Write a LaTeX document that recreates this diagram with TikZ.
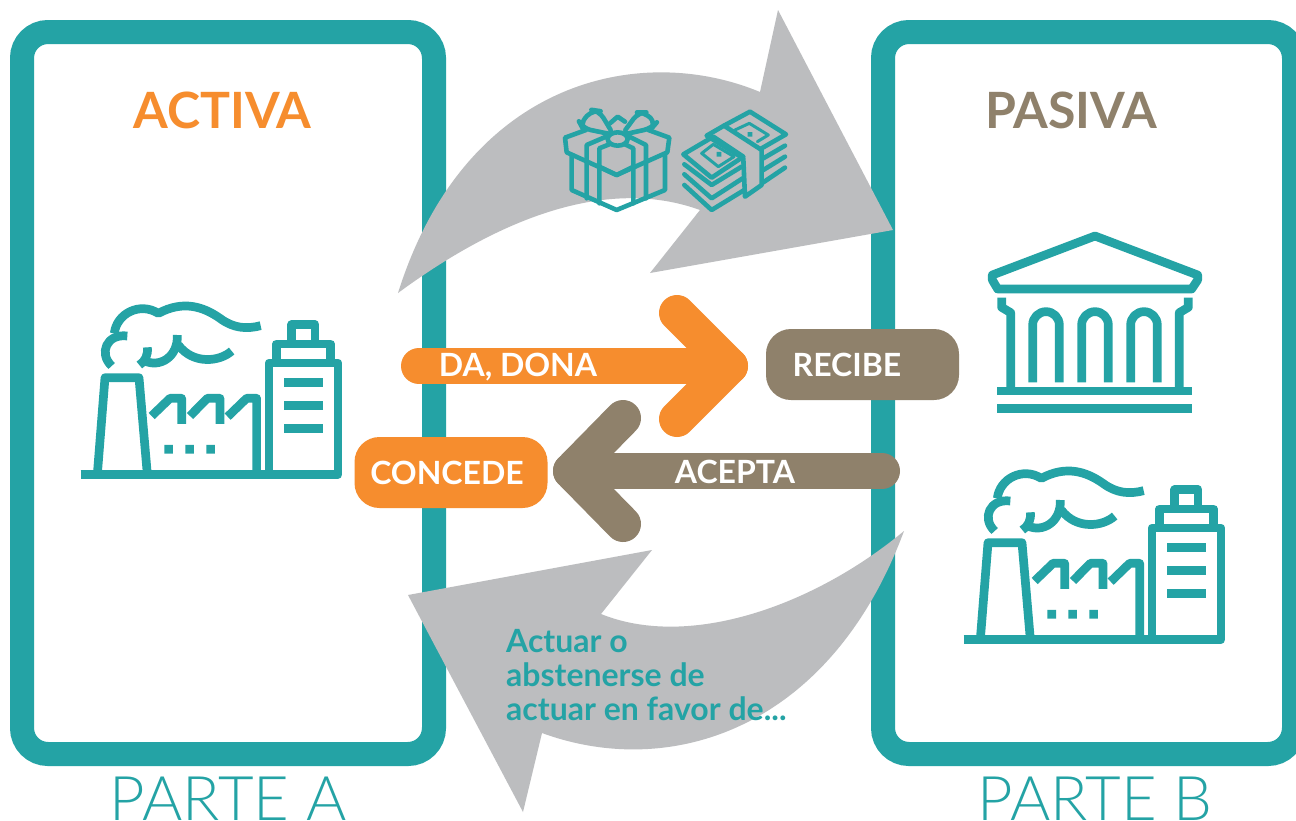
\documentclass[tikz,border=0pt]{standalone}
\usepackage{fontspec}
\setmainfont{Lato}
\newfontfamily\lightfont{Lato Light}
\definecolor{teal1}{HTML}{24A3A5}
\definecolor{gray1}{HTML}{BCBDBF}
\definecolor{orange1}{HTML}{F68D2E}
\definecolor{brown1}{HTML}{8F816B}
\tikzset{
  panel/.style={draw=teal1,line width=24pt,rounded corners=26pt,fill=white},
  grayarrow/.style={fill=gray1,draw=none},
  icon/.style={draw=teal1,line width=8.7pt,line join=round},
  thin icon/.style={draw=teal1,line width=4.6pt,line join=round,line cap=round},
  flatbox/.style={rounded corners=25pt,minimum width=193pt,minimum height=71pt,inner sep=0pt,text=white,font=\bfseries\fontsize{32}{32}\selectfont},
  shaftlabel/.style={text=white,font=\bfseries\fontsize{32}{32}\selectfont,inner sep=0pt},
  headline/.style={font=\bfseries\fontsize{50}{50}\selectfont,inner sep=0pt},
  partlabel/.style={text=teal1,font=\lightfont\fontsize{61.5}{62}\selectfont,inner sep=0pt,anchor=base},
  shaft/.style={line width=36pt,line cap=round},
  chevron/.style={line width=36pt,line cap=round,line join=round},
}
\newcommand{\factoryicon}[2]{%
 \begin{scope}[shift={(#1,#2)},x=0.3333pt,y=-0.3333pt]
  \draw[icon] (32,553)--(600,553);
  \draw[icon] (82,553)--(105,263)--(207,263)--(232,553);
  \draw[icon] (245,378)--(300,325)--(335,325)--(335,402);
  \draw[icon] (360,378)--(412,325)--(450,325)--(450,402);
  \draw[icon] (473,380)--(530,325)--(560,325)--(560,553);
  \fill[teal1] (283,465) rectangle (309,491) (346,465) rectangle (372,491) (409,465) rectangle (435,491);
  \draw[icon] (597,219) rectangle (804,553);
  \draw[icon] (619,219)--(619,162)--(782,162)--(782,219);
  \draw[icon] (665,162)--(665,104)--(735,104)--(735,162);
  \draw[icon] (643,277)--(758,277) (643,346)--(758,346) (643,415)--(758,415);
  \draw[icon] (133,130) .. controls (140,70) and (210,35) .. (265,70) .. controls (340,30) and (400,50) .. (450,85) .. controls (490,115) and (530,118) .. (572,107);
  \draw[icon] (172,138) .. controls (110,130) and (85,190) .. (125,228);
  \draw[icon] (232,172) .. controls (235,195) and (225,215) .. (208,225);
  \draw[icon] (222,212) .. controls (270,235) and (325,200) .. (322,135);
  \draw[icon] (325,165) .. controls (370,225) and (450,215) .. (485,183);
 \end{scope}}
\begin{document}
\begin{tikzpicture}[x=1pt,y=-1pt]
\useasboundingbox (0,0) rectangle (1296,820);
\clip (0,0) rectangle (1296,820);
\fill[white] (0,0) rectangle (1296,820);
% panels
\draw[panel] (22,32) rectangle (434,754);
\draw[panel] (883,32) rectangle (1294,754);
% gray arrows
\fill[grayarrow] (398,293) .. controls (465,80) and (640,42) .. (760,92) -- (778,10) -- (893,230) -- (650,273) -- (700,210) .. controls (590,170) and (470,240) .. (398,293) -- cycle;
\fill[grayarrow] (904,531) .. controls (830,730) and (670,780) .. (542,733) -- (523,812) -- (408,595) -- (652,550) -- (601,614) .. controls (690,650) and (815,605) .. (904,531) -- cycle;
% titles
\node[headline,text=orange1] (activa) at (222.5,110) {ACTIVA};
\node[headline,text=brown1] (pasiva) at (1071,110) {PASIVA};
\node[partlabel] (partea) at (228,820) {PARTE A};
\node[partlabel] (parteb) at (1095,820) {PARTE B};
% factories
\factoryicon{70}{290}
\factoryicon{953}{455}
% bank
\begin{scope}[shift={(975,220)},x=0.3333pt,y=-0.3333pt]
 \draw[icon] (360,48)--(668,165)--(668,180)--(650,207)--(68,207)--(52,180)--(52,165)--cycle;
 \draw[icon] (80,233)--(80,262)--(107,278)--(107,513);
 \draw[icon] (640,233)--(640,262)--(613,278)--(613,513);
 \draw[icon] (173,487)--(173,315) arc[start angle=180,end angle=0,x radius=40,y radius=-40]--(253,487);
 \draw[icon] (320,487)--(320,315) arc[start angle=180,end angle=0,x radius=40,y radius=-40]--(400,487);
 \draw[icon] (467,487)--(467,315) arc[start angle=180,end angle=0,x radius=40,y radius=-40]--(547,487);
 \draw[icon] (67,513)--(652,513) (67,566)--(652,566);
\end{scope}
% gift and money
\begin{scope}[shift={(550,95)},x=0.3333pt,y=-0.3333pt]
 \draw[thin icon] (108,105)--(45,128)--(50,172)--(200,240)--(352,172)--(358,128)--(295,105);
 \draw[thin icon] (65,180)--(65,285)--(200,345)--(345,285)--(345,180);
 \draw[thin icon] (110,310)--(110,150)--(175,122);
 \draw[thin icon] (288,310)--(288,150)--(232,122);
 \draw[thin icon] (148,325)--(148,160)--(178,148);
 \draw[thin icon] (250,325)--(250,160)--(225,148);
 \draw[thin icon] (148,215)--(200,240)--(250,215);
 \draw[thin icon] (203,132) ellipse[x radius=30,y radius=20];
 \draw[thin icon,rounded corners=8pt] (175,116)--(98,100)--(90,85)--(128,45)--(148,48)--(182,105);
 \draw[thin icon,rounded corners=8pt] (232,116)--(305,100)--(318,85)--(285,52)--(265,52)--(226,105);
 \draw[thin icon] (180,85)--(203,65)--(225,80);
 \draw[thin icon] (400,178)--(490,125)--(580,185)--(485,248)--cycle;
 \draw[thin icon] (403,208)--(485,270)--(575,215);
 \draw[thin icon] (403,238)--(485,310)--(578,250);
 \draw[thin icon] (403,270)--(485,345)--(583,285);
 \draw[thin icon] (470,122)--(522,92)--(635,165)--(635,270)--(585,305)--(580,190)--cycle;
 \draw[thin icon] (522,92)--(600,50)--(708,118)--(635,160);
 \draw[thin icon] (640,190)--(705,152) (640,225)--(705,185) (640,262)--(705,218);
 \draw[thin icon,line width=3pt] (455,175)--(490,148)--(552,185)--(505,215)--cycle;
 \draw[thin icon,line width=3pt] (555,105)--(598,85)--(655,120)--(622,140);
 \fill[teal1] (500,171) rectangle (514,185) (593,111) rectangle (607,125);
\end{scope}
% boxes
\node[flatbox,fill=brown1] (recibe) at (862.5,364.5) {RECIBE\hspace*{31pt}};
\node[flatbox,fill=orange1] (concede) at (451,472.5) {CONCEDE\hspace*{8pt}};
% arrows
\coordinate (daStart) at (419,366);
\coordinate (daEnd) at (730,366);
\coordinate (acStart) at (882,471);
\coordinate (acEnd) at (571,471);
\draw[shaft,orange1] (daStart)--(daEnd);
\draw[chevron,orange1] (677,313)--(daEnd)--(677,419);
\draw[shaft,brown1] (acStart)--(acEnd);
\draw[chevron,brown1] (623,418)--(acEnd)--(623,524);
\node[shaftlabel] (dadona) at (518,367) {DA, DONA};
\node[shaftlabel] (acepta) at (735,472) {ACEPTA};
% action text
\node[anchor=north west,align=left,text=teal1,inner sep=0pt,font=\bfseries\fontsize{32}{34.2}\selectfont] (actuar) at (506,628.7) {Actuar o\\abstenerse de\\actuar en favor de...};
\end{tikzpicture}
\end{document}
